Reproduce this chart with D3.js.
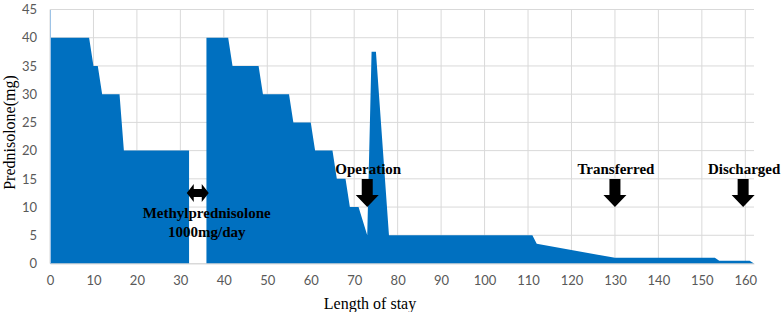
<!DOCTYPE html>
<html>
<head>
<meta charset="utf-8">
<script src="https://cdn.jsdelivr.net/npm/d3@7"></script>
<style>
  body { margin: 0; background: #fff; }
  .tick text { font-family: Lato, "Noto Sans", sans-serif; font-size: 13px; fill: #595959; }
  .ann { font-family: "Liberation Serif", "Times New Roman", serif; font-weight: bold; font-size: 15px; fill: #000; }
  .title { font-family: "Liberation Serif", "Times New Roman", serif; font-size: 16px; fill: #000; }
</style>
</head>
<body>
<script>
// prednisolone dose per day of stay (breakpoints of the area)
var days  = [0, 9, 10, 11, 12, 16, 17, 32, 32, 36, 36, 41, 42, 48, 49, 55, 56, 60, 61, 65, 66, 68, 69, 71, 73, 74, 75, 78, 111, 112, 130, 153, 154, 161, 162];
var doses = [40, 40, 35, 35, 30, 30, 20, 20, 0, 0, 40, 40, 35, 35, 30, 30, 25, 25, 20, 20, 15, 15, 10, 10, 5, 37.5, 37.5, 5, 5, 3.5, 1, 1, 0.5, 0.5, 0];

var xTicks = [0, 10, 20, 30, 40, 50, 60, 70, 80, 90, 100, 110, 120, 130, 140, 150, 160];
var yTicks = [0, 5, 10, 15, 20, 25, 30, 35, 40, 45];

// down arrows: label, day, dose at arrow tip
var eventLabels = ["Operation", "Transferred", "Discharged"];
var eventDays   = [73, 130, 159.5];
var eventTips   = [10, 10, 10];

// methylprednisolone pulse marker
var pulseDay = 34, pulseDose = 12.5;
var pulseLines = ["Methylprednisolone", "1000mg/day"];

var margin = { top: 9.5, right: 28, bottom: 48.5, left: 50 },
    width = 782 - margin.left - margin.right,
    height = 312 - margin.top - margin.bottom;

var svg = d3.select('body').append('svg')
    .attr('width', 782)
    .attr('height', 312)
  .append('g')
    .attr('transform', 'translate(' + margin.left + ',' + margin.top + ')');

var x = d3.scaleLinear().domain([0, 162]).range([0, width]);
var y = d3.scaleLinear().domain([0, 45]).range([height, 0]);

// grid
svg.append('g').selectAll('line.h').data(yTicks).enter().append('line')
    .attr('x1', 0).attr('x2', width)
    .attr('y1', function(d){ return y(d); }).attr('y2', function(d){ return y(d); })
    .attr('stroke', '#d9d9d9').attr('stroke-width', 1);
svg.append('g').selectAll('line.v').data(xTicks).enter().append('line')
    .attr('x1', function(d){ return x(d); }).attr('x2', function(d){ return x(d); })
    .attr('y1', 0).attr('y2', height)
    .attr('stroke', '#d9d9d9').attr('stroke-width', 1);

// area
var pts = days.map(function(d, i){ return [d, doses[i]]; });
var area = d3.area()
    .x(function(d){ return x(d[0]); })
    .y0(y(0))
    .y1(function(d){ return y(d[1]); });
svg.append('path').attr('d', area(pts)).attr('fill', '#0070c0');

// axes
var xAxis = svg.append('g').attr('transform', 'translate(0,' + height + ')')
    .call(d3.axisBottom(x).tickValues(xTicks).tickSize(0).tickPadding(12));
xAxis.select('.domain').attr('stroke', '#d9d9d9');
var yAxis = svg.append('g')
    .call(d3.axisLeft(y).tickValues(yTicks).tickSize(0).tickPadding(13));
yAxis.select('.domain').attr('stroke', '#9dc3e6');

// axis titles
svg.append('text').attr('class', 'title').attr('text-anchor', 'middle')
    .attr('x', width / 2 - 32).attr('y', height + 45).text('Length of stay');
svg.append('text').attr('class', 'title').attr('text-anchor', 'middle')
    .attr('transform', 'translate(' + (-margin.left + 15) + ',' + (height / 2 - 4) + ')rotate(-90)')
    .text('Prednisolone(mg)');

// down arrows with labels
function downArrow(cx, tipY) {
  var sw = 5.5, hw = 11.5, hh = 12, top = tipY - 28;
  return 'M' + (cx - sw) + ',' + top + 'L' + (cx + sw) + ',' + top +
    'L' + (cx + sw) + ',' + (tipY - hh) + 'L' + (cx + hw) + ',' + (tipY - hh) +
    'L' + cx + ',' + tipY + 'L' + (cx - hw) + ',' + (tipY - hh) +
    'L' + (cx - sw) + ',' + (tipY - hh) + 'Z';
}
eventLabels.forEach(function(lbl, i){
  var cx = x(eventDays[i]), tip = y(eventTips[i]);
  svg.append('path').attr('d', downArrow(cx, tip)).attr('fill', '#000');
  svg.append('text').attr('class', 'ann').attr('text-anchor', 'middle')
      .attr('x', cx + 1).attr('y', tip - 33).text(lbl);
});

// double-headed arrow for the pulse
var px = x(pulseDay), py = y(pulseDose);
svg.append('path').attr('fill', '#000').attr('d',
  'M' + (px - 11) + ',' + py + 'L' + (px - 4) + ',' + (py - 9) + 'L' + (px - 4) + ',' + (py - 4) +
  'L' + (px + 4) + ',' + (py - 4) + 'L' + (px + 4) + ',' + (py - 9) + 'L' + (px + 11) + ',' + py +
  'L' + (px + 4) + ',' + (py + 9) + 'L' + (px + 4) + ',' + (py + 4) + 'L' + (px - 4) + ',' + (py + 4) +
  'L' + (px - 4) + ',' + (py + 9) + 'Z');
pulseLines.forEach(function(t, i){
  svg.append('text').attr('class', 'ann').attr('text-anchor', 'middle')
      .attr('x', px + 9).attr('y', py + 25 + i * 19).text(t);
});
</script>
</body>
</html>
